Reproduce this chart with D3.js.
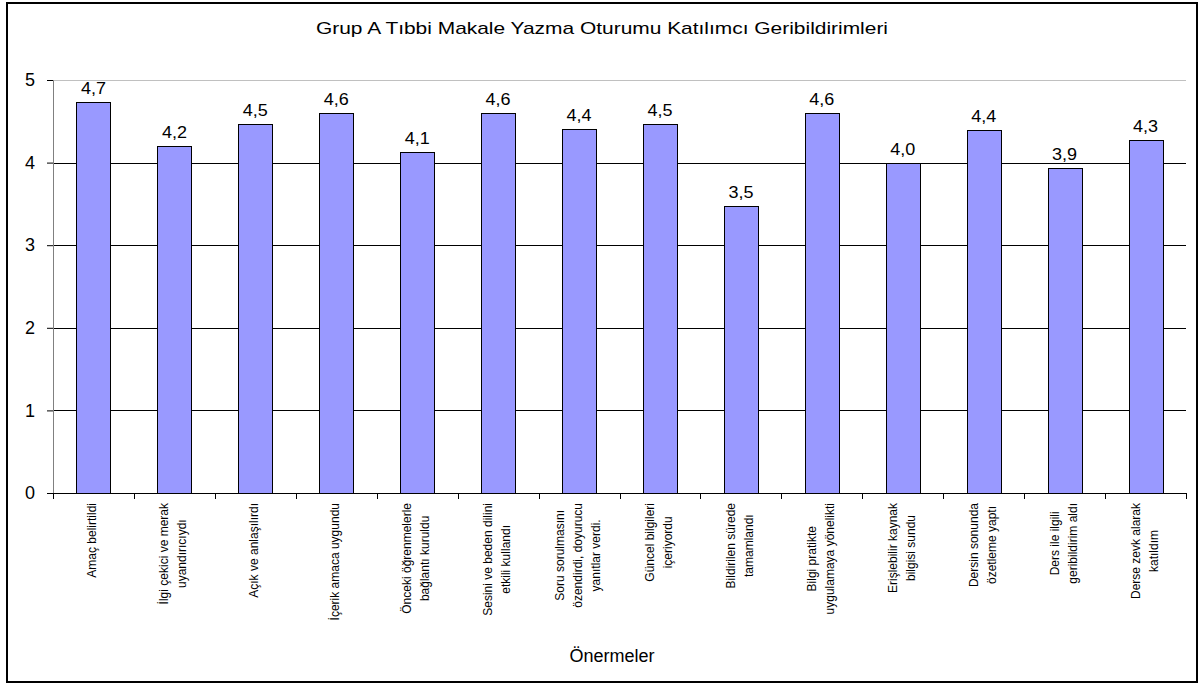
<!DOCTYPE html>
<html>
<head>
<meta charset="utf-8">
<script src="https://cdn.jsdelivr.net/npm/d3@7"></script>
<style>
  body { margin: 0; background: #fff; }
  text { font-family: "Liberation Sans", Arial, sans-serif; fill: #000; }
</style>
</head>
<body>
<div id="chart"></div>
<script>
// Chart data
const categories = [
    ["Amaç belirtildi"],
    ["İlgi çekici ve merak", "uyandırıcıydı"],
    ["Açık ve anlaşılırdı"],
    ["İçerik amaca uygundu"],
    ["Önceki öğrenmelerle", "bağlantı kuruldu"],
    ["Sesini ve beden dilini", "etkili kullandı"],
    ["Soru sorulmasını", "özendirdi, doyurucu", "yanıtlar verdi."],
    ["Güncel bilgileri", "içeriyordu"],
    ["Bildirilen sürede", "tamamlandı"],
    ["Bilgi pratikte", "uygulamaya yönelikti"],
    ["Erişlebilir kaynak", "bilgisi sundu"],
    ["Dersin sonunda", "özetleme yaptı"],
    ["Ders ile ilgili", "geribildirim aldı"],
    ["Derse zevk alarak", "katıldım"]
];
const values = [4.73, 4.2, 4.47, 4.6, 4.13, 4.6, 4.41, 4.47, 3.47, 4.6, 4.0, 4.4, 3.93, 4.27];
const yTicks = [0, 1, 2, 3, 4, 5];

const title = "Grup A Tıbbi Makale Yazma Oturumu Katılımcı Geribildirimleri";
const xTitle = "Önermeler";

const W = 1202, H = 687;
const margin = { top: 80, right: 16, bottom: 194, left: 53 };
const width = W - margin.left - margin.right;
const height = H - margin.top - margin.bottom;

const svg = d3.select("#chart")
    .append("svg")
    .attr("width", W)
    .attr("height", H);

// Outer frame
svg.append("rect")
    .attr("x", 7).attr("y", 3)
    .attr("width", 1190).attr("height", 679)
    .attr("fill", "none")
    .attr("stroke", "#000")
    .attr("stroke-width", 2);

// the original's text is a little stretched sideways, so the title gets a fixed length
svg.append("text")
    .attr("x", 602).attr("y", 34)
    .attr("text-anchor", "middle")
    .attr("textLength", 572)
    .attr("lengthAdjust", "spacingAndGlyphs")
    .style("font-size", "17px")
    .text(title);

const g = svg.append("g")
    .attr("transform", `translate(${margin.left},${margin.top})`);

const idx = categories.map((d, i) => i);

const x = d3.scaleBand()
    .domain(idx)
    .range([0, width])
    .paddingInner(0.58)
    .paddingOuter(0.29);

const y = d3.scaleLinear()
    .domain([0, 5])
    .range([height, 0]);

// Gridlines
g.selectAll(".grid")
    .data(yTicks.filter(t => t > 0))
    .enter()
    .append("line")
    .attr("x1", 0).attr("x2", width)
    .attr("y1", d => Math.round(y(d)) + 0.5)
    .attr("y2", d => Math.round(y(d)) + 0.5)
    .attr("stroke", d => d === 5 ? "#c0c0c0" : "#000")
    .attr("stroke-width", 1);

// Y axis
const yAxis = g.append("g")
    .call(d3.axisLeft(y).tickValues(yTicks).tickSize(6).tickPadding(12).tickFormat(d3.format("d")));
yAxis.select(".domain").attr("stroke", "#808080");
yAxis.selectAll(".tick line").attr("stroke", "#000");
yAxis.selectAll(".tick text")
    .style("font-size", "18px")
    .style("font-family", "'Liberation Sans', Arial, sans-serif");

// Bars
g.selectAll(".bar")
    .data(values)
    .enter()
    .append("rect")
    .attr("class", "bar")
    .attr("x", (d, i) => Math.round(x(i)) + 0.5)
    .attr("width", Math.round(x.bandwidth()))
    .attr("y", d => Math.round(y(d)) + 0.5)
    .attr("height", d => height - Math.round(y(d)))
    .attr("fill", "#9999ff")
    .attr("stroke", "#000")
    .attr("stroke-width", 1);

// Value labels
const fmt = d3.format(".1f");
g.selectAll(".label")
    .data(values)
    .enter()
    .append("text")
    .attr("class", "label")
    .attr("x", (d, i) => x(i) + x.bandwidth() / 2)
    .attr("y", d => y(d) - 8)
    .attr("text-anchor", "middle")
    .attr("textLength", 25)
    .attr("lengthAdjust", "spacingAndGlyphs")
    .style("font-size", "16px")
    .text(d => fmt(d).replace(".", ","));

// X axis line and ticks at category boundaries
const step = x.step();
g.append("line")
    .attr("x1", -6).attr("x2", width)
    .attr("y1", height + 0.5).attr("y2", height + 0.5)
    .attr("stroke", "#000");
g.selectAll(".xtick")
    .data(d3.range(categories.length + 1))
    .enter()
    .append("line")
    .attr("x1", d => Math.round(d * step) + 0.5)
    .attr("x2", d => Math.round(d * step) + 0.5)
    .attr("y1", height)
    .attr("y2", height + 6)
    .attr("stroke", "#000");

// Rotated category labels, lines centred, block starting under the axis
const lineGap = 18;
const labels = g.selectAll(".xlabel")
    .data(categories)
    .enter()
    .append("g")
    .attr("class", "xlabel");

labels.each(function (lines, i) {
    const grp = d3.select(this);
    const texts = lines.map(ln => grp.append("text")
        .style("font-size", "12px")
        .attr("text-anchor", "middle")
        .text(ln));
    const maxLen = d3.max(texts, t => t.node().getComputedTextLength());
    const cx = x(i) + x.bandwidth() / 2;
    const cy = height + 10 + maxLen / 2;
    texts.forEach((t, j) => {
        const off = (j - (lines.length - 1) / 2) * lineGap;
        t.attr("transform", `translate(${cx + off + 3},${cy}) rotate(-90)`);
    });
});

svg.append("text")
    .attr("x", 612).attr("y", 662)
    .attr("text-anchor", "middle")
    .style("font-size", "18px")
    .text(xTitle);
</script>
</body>
</html>
